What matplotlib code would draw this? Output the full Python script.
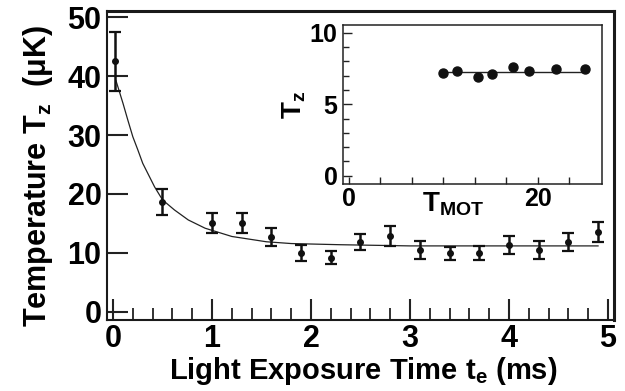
import matplotlib
matplotlib.use("Agg")
import matplotlib.pyplot as plt
from matplotlib.ticker import MultipleLocator, FixedLocator, FixedFormatter

plt.rcParams['font.family'] = ['Liberation Sans', 'DejaVu Sans']
plt.rcParams['font.weight'] = 'bold'
plt.rcParams['mathtext.fontset'] = 'custom'
plt.rcParams['mathtext.rm'] = 'Liberation Sans:bold'
plt.rcParams['mathtext.it'] = 'Liberation Sans:bold'
plt.rcParams['mathtext.bf'] = 'Liberation Sans:bold'

# ---- main data ----
t_exp = [0.02, 0.49, 1.0, 1.3, 1.6, 1.9, 2.2, 2.5, 2.8, 3.1, 3.4, 3.7, 4.0, 4.3, 4.6, 4.9]
temp = [42.5, 18.7, 15.1, 15.1, 12.7, 10.0, 9.2, 11.9, 12.8, 10.5, 9.95, 9.95, 11.4, 10.5, 11.9, 13.6]
temp_err = [5.0, 2.2, 1.75, 1.75, 1.5, 1.4, 1.1, 1.4, 1.7, 1.5, 1.1, 1.2, 1.5, 1.5, 1.5, 1.7]

# fit curve
fit_t = [0.03, 0.10, 0.15, 0.20, 0.25, 0.30, 0.36, 0.42, 0.50, 0.62, 0.76, 0.93, 1.2, 1.55, 1.8, 2.3, 3.0, 4.0, 4.9]
fit_T = [39.2, 35.4, 32.5, 29.7, 27.5, 25.2, 23.2, 21.2, 19.0, 17.3, 15.6, 14.2, 12.8, 11.9, 11.6, 11.4, 11.2, 11.2, 11.2]

x_ticks = [0, 1, 2, 3, 4, 5]
y_ticks = [0, 10, 20, 30, 40, 50]

# ---- inset data ----
t_mot = [10.0, 11.4, 13.65, 15.2, 17.35, 19.1, 21.9, 25.0]
tz_mot = [7.2, 7.34, 6.92, 7.11, 7.62, 7.34, 7.46, 7.46]
mot_line_x = [10.0, 25.0]
mot_line_y = [7.27, 7.27]
inset_xticklabels = ['0', '', '', '', '', '', '20', '']

W, H = 625, 391
fig = plt.figure(figsize=(W / 100, H / 100), dpi=100)

L, R, T, B = 107, 613.5, 11.3, 320
ax = fig.add_axes([L / W, 1 - B / H, (R - L) / W, (B - T) / H])
ax.errorbar(t_exp, temp, yerr=temp_err, fmt='o', color='#111111', ms=4,
            elinewidth=1.8, capsize=4, capthick=1.6, zorder=3)
ax.plot(fit_t, fit_T, color='#222222', lw=0.9, zorder=2)

ax.set_xlim(-0.061, 5.056)
ax.set_ylim(-1.36, 50.97)
ax.set_xticks(x_ticks)
ax.set_yticks(y_ticks)
ax.xaxis.set_minor_locator(MultipleLocator(0.2))
ax.tick_params(axis='both', which='both', direction='in', top=False, right=False,
               labelsize=22, color='#222222')
ax.tick_params(axis='both', which='major', length=15, width=1.5)
ax.tick_params(axis='x', which='minor', length=8.5, width=1.3)
ax.tick_params(axis='x', which='major', pad=3)
ax.tick_params(axis='y', which='major', pad=4)
for lab in ax.get_xticklabels() + ax.get_yticklabels():
    lab.set_fontweight('bold')
for s in ['left', 'bottom']:
    ax.spines[s].set_linewidth(1.5)
for s in ['top', 'right']:
    ax.spines[s].set_linewidth(2.2)
for s in ax.spines.values():
    s.set_color('#1a1a1a')

ax.set_xlabel(r'Light Exposure Time $\mathrm{t_e}$ (ms)', fontsize=21, fontweight='bold')
ax.set_ylabel(r'Temperature $\mathrm{T_z}$  ($\mathrm{\mu}$K)', fontsize=22, fontweight='bold')
ax.xaxis.set_label_coords((363 - L) / (R - L), (B - 355) / (B - T))
ax.yaxis.set_label_coords((55 - L) / (R - L), (B - 176) / (B - T))

# ---- inset ----
iL, iR, iT, iB = 343, 602, 25, 184
ai = fig.add_axes([iL / W, 1 - iB / H, (iR - iL) / W, (iB - iT) / H])
ai.plot(t_mot, tz_mot, 'o', color='#111111', ms=6.5, zorder=3)
ai.plot(mot_line_x, mot_line_y, color='#222222', lw=1.0, zorder=2)
ai.set_xlim(-0.63, 26.8)
ai.set_ylim(-0.58, 10.54)
ai.xaxis.set_major_locator(FixedLocator([i * 10 / 3 for i in range(8)]))
ai.xaxis.set_major_formatter(FixedFormatter(inset_xticklabels))
ai.set_yticks([0, 5, 10])
ai.yaxis.set_minor_locator(MultipleLocator(1))
ai.tick_params(axis='both', which='both', direction='in', top=False, right=False,
               labelsize=18, color='#222222')
ai.tick_params(axis='both', which='major', length=6.5, width=1.0)
ai.tick_params(axis='y', which='minor', length=4, width=1.0)
ai.tick_params(axis='x', which='major', length=5, pad=2)
ai.tick_params(axis='y', which='major', pad=4)
for lab in ai.get_xticklabels() + ai.get_yticklabels():
    lab.set_fontweight('bold')
for s in ai.spines.values():
    s.set_linewidth(1.1)
    s.set_color('#222222')
ai.set_xlabel(r'$\mathrm{T_{MOT}}$', fontsize=20)
ai.set_ylabel(r'$\mathrm{T_z}$', fontsize=20)
ai.xaxis.set_label_coords((453 - iL) / (iR - iL), (iB - 190) / (iB - iT))
ai.yaxis.set_label_coords((308 - iL) / (iR - iL), 0.5)

fig.savefig('out.png', dpi=100)
